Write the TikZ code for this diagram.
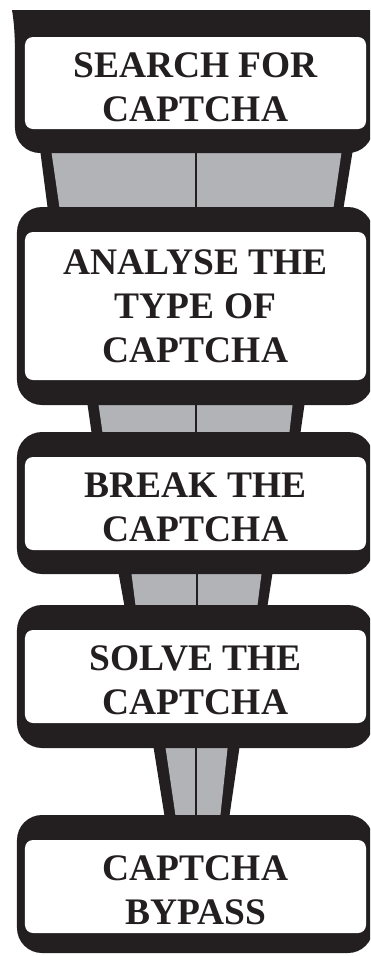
\documentclass[tikz,border=0pt]{standalone}
\usepackage{fontspec}
\setmainfont{Liberation Serif}
\usetikzlibrary{calc}
\definecolor{blk}{HTML}{231F20}
\definecolor{gry}{HTML}{B1B3B6}
\tikzset{
  outerbox/.style={fill=blk, rounded corners=25bp, inner sep=0pt, draw=none},
  innerbox/.style={fill=white, rounded corners=8bp, inner sep=0pt, draw=none, minimum width=341bp, minimum height=93bp},
  lbl/.style={align=center, inner sep=0pt, text=blk, font=\fontsize{37.6}{44}\selectfont\bfseries},
  conn/.style={fill=blk},
  conngray/.style={fill=gry},
  divider/.style={draw=blk, line width=1.6bp},
}
\begin{document}
\begin{tikzpicture}[x=1bp,y=-1bp]
\useasboundingbox (0,0) rectangle (370,956);
% connectors (drawn first, boxes cover their ends)
\fill[conn] (40,149) -- (353,149) -- (343,211) -- (48,211) -- cycle;
\fill[conngray] (51,149) -- (342,149) -- (333,211) -- (60,211) -- cycle;
\fill[conn] (87,401) -- (305,401) -- (300,436) -- (92,436) -- cycle;
\fill[conngray] (98,401) -- (293,401) -- (289,436) -- (103,436) -- cycle;
\fill[conn] (118,570) -- (273,570) -- (267,609) -- (125,609) -- cycle;
\fill[conngray] (131,570) -- (262,570) -- (257,609) -- (136,609) -- cycle;
\fill[conn] (153,744) -- (240,744) -- (229,819) -- (165,819) -- cycle;
\fill[conngray] (165,744) -- (228,744) -- (220,819) -- (176,819) -- cycle;
% outer boxes
\begin{scope}
\clip (0,10) rectangle (370,970);
\node[outerbox, minimum width=358bp, minimum height=173bp] (b1) at (194,66.5) {};
\node[outerbox, minimum width=356bp, minimum height=198bp] (b2) at (195,306) {};
\node[outerbox, minimum width=356bp, minimum height=142bp] (b3) at (195,503) {};
\node[outerbox, minimum width=356bp, minimum height=143bp] (b4) at (195,676.5) {};
\node[outerbox, minimum width=356bp, minimum height=138bp] (b5) at (195,884) {};
\end{scope}
\fill[blk] (12,10) .. controls (14,22) and (15,35) .. (15.5,60) -- (30,60) -- (30,10) -- cycle;
% dividers
\draw[divider] ($(b1.south)+(2,0)$) -- ($(b2.north)+(1,0)$);
\draw[divider] ($(b2.south)+(1,0)$) -- ($(b3.north)+(1,0)$);
\draw[divider] ($(b3.south)+(2,0)$) -- ($(b4.north)+(2,0)$);
\draw[divider] ($(b4.south)+(1,0)$) -- ($(b5.north)+(1,0)$);
% inner boxes
\node[innerbox, minimum height=92bp] (w1) at (195.5,83) {};
\node[innerbox, minimum height=148bp] (w2) at (195.5,306) {};
\node[innerbox] (w3) at (195.5,503.5) {};
\node[innerbox] (w4) at (195.5,676.5) {};
\node[innerbox] (w5) at (195.5,886.5) {};
% labels
\node[lbl] (t1) at (195.5,87) {SEARCH FOR\\CAPTCHA};
\node[lbl] (t2) at (195.5,306) {ANALYSE THE\\TYPE OF\\CAPTCHA};
\node[lbl] (t3) at (195.5,507) {BREAK THE\\CAPTCHA};
\node[lbl] (t4) at (195.5,680) {SOLVE THE\\CAPTCHA};
\node[lbl] (t5) at (195.5,890) {CAPTCHA\\BYPASS};
\end{tikzpicture}
\end{document}
